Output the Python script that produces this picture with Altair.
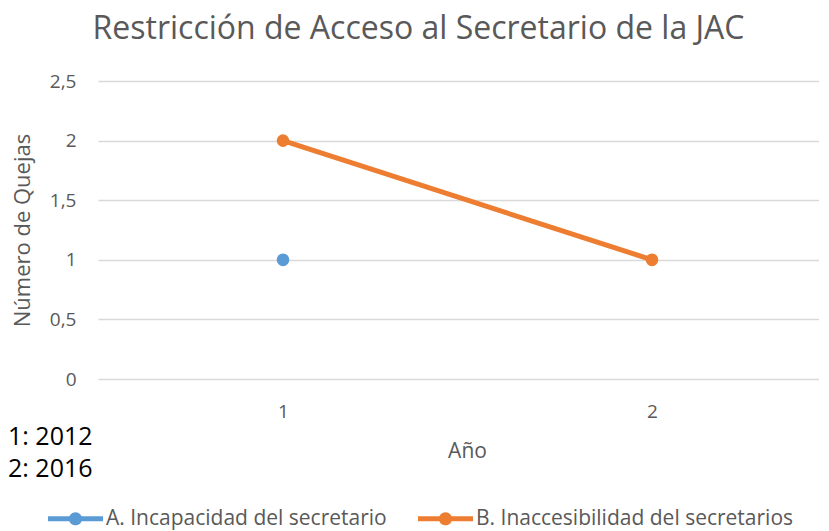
import altair as alt
import pandas as pd

years = [1, 2]
series_a = [1, None]
series_b = [2, 1]
name_a = "A. Incapacidad del secretario"
name_b = "B. Inaccesibilidad del secretarios"
notes = ["1: 2012", "2: 2016"]

rows = []
for x, v in zip(years, series_a):
    if v is not None:
        rows.append({"Año": x, "Quejas": v, "Serie": name_a})
for x, v in zip(years, series_b):
    if v is not None:
        rows.append({"Año": x, "Quejas": v, "Serie": name_b})
df = pd.DataFrame(rows)

GRAY = "#595959"
FONT = "Open Sans"
sym = "M-1,-0.09H1V0.09H-1Z M0.24,0A0.24,0.24,0,1,1,-0.24,0A0.24,0.24,0,1,1,0.24,0Z"

color = alt.Color(
    "Serie:N",
    scale=alt.Scale(domain=[name_a, name_b], range=["#5B9BD5", "#ED7D31"]),
    legend=alt.Legend(
        title=None, orient="none", direction="horizontal",
        legendX=-50, legendY=410, padding=0,
        symbolType=sym, symbolSize=3025, symbolStrokeWidth=0,
        labelFontSize=21, labelColor=GRAY, labelFont=FONT, labelLimit=400,
        columnPadding=31, labelOffset=3,
    ),
)

x = alt.X(
    "Año:Q",
    scale=alt.Scale(domain=[0.4986, 2.4526], nice=False, zero=False),
    axis=alt.Axis(values=years, format="d", grid=False, domain=False, ticks=False,
                  labelFontSize=19, labelColor=GRAY, labelFont=FONT, labelPadding=23,
                  title="Año", titleFontSize=21, titleColor=GRAY, titleFont=FONT,
                  titleFontWeight="normal", titlePadding=19, titleX=369),
)
y = alt.Y(
    "Quejas:Q",
    scale=alt.Scale(domain=[0, 2.5], nice=False),
    axis=alt.Axis(values=[0, 0.5, 1, 1.5, 2, 2.5], grid=True, gridColor="#d9d9d9",
                  gridWidth=1.3, domain=False, ticks=False,
                  labelExpr="replace(toString(datum.value), '.', ',')",
                  labelFontSize=19, labelColor=GRAY, labelFont=FONT, labelPadding=22,
                  title="Número de Quejas", titleFontSize=22, titleColor=GRAY,
                  titleFont=FONT, titleFontWeight="normal", titleX=-64),
)

lines = alt.Chart(df).mark_line(strokeWidth=5).encode(x=x, y=y, color=color)
points = alt.Chart(df).mark_circle(size=160, opacity=1).encode(x=x, y=y, color=color)

notes_df = pd.DataFrame({"t": notes, "i": [0, 1]})
note1 = alt.Chart(notes_df[notes_df.i == 0]).mark_text(
    align="left", baseline="middle", fontSize=25, font=FONT, color="black"
).encode(text="t:N", x=alt.value(-90), y=alt.value(356))
note2 = alt.Chart(notes_df[notes_df.i == 1]).mark_text(
    align="left", baseline="middle", fontSize=25, font=FONT, color="black"
).encode(text="t:N", x=alt.value(-90), y=alt.value(388))

chart = alt.layer(lines, points, note1, note2).properties(
    width=721, height=298,
    autosize=alt.AutoSizeParams(type="none"),
    padding={"left": 90, "top": 73, "right": 0, "bottom": 152},
    title=alt.TitleParams(
        "Restricción de Acceso al Secretario de la JAC",
        fontSize=32, font=FONT, color=GRAY, fontWeight="normal",
        anchor="middle", dx=-40, offset=26,
    ),
).configure_view(stroke=None)

chart.save("out.html", embed_options={"renderer": "svg", "actions": False})
